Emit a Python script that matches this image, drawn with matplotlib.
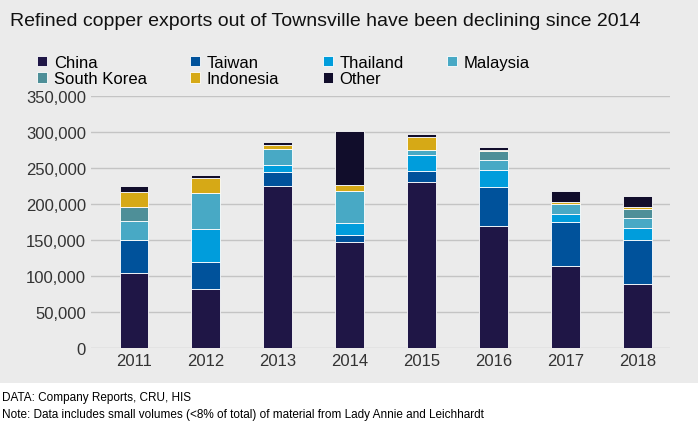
import matplotlib
matplotlib.use("Agg")
import matplotlib.pyplot as plt
from matplotlib.ticker import FuncFormatter

years = ["2011", "2012", "2013", "2014", "2015", "2016", "2017", "2018"]
china = [105000, 82000, 226000, 147000, 231000, 170500, 115000, 90000]
taiwan = [45000, 38500, 19000, 11000, 15000, 53500, 60000, 60500]
thailand = [0, 45000, 9000, 16000, 22000, 23500, 11500, 16000]
malaysia = [27000, 50500, 23000, 44000, 8000, 13500, 14500, 15000]
south_korea = [19000, 0, 0, 0, 0, 12500, 0, 11500]
indonesia = [21000, 21000, 6000, 9000, 18000, 1500, 2000, 3000]
other = [9000, 4000, 3000, 75000, 4000, 5000, 15000, 15000]

series = [
    ("China", china, "#1f1646"),
    ("Taiwan", taiwan, "#00529b"),
    ("Thailand", thailand, "#009ddc"),
    ("Malaysia", malaysia, "#48a9c5"),
    ("South Korea", south_korea, "#4e8f98"),
    ("Indonesia", indonesia, "#d6a916"),
    ("Other", other, "#110d2b"),
]

BG = "#ebebeb"
plt.rcParams["font.family"] = ["Liberation Sans", "DejaVu Sans"]

fig = plt.figure(figsize=(6.98, 4.27), dpi=100, facecolor="white")
bg_ax = fig.add_axes([0, 0.1, 1, 0.9])
bg_ax.set_facecolor(BG)
bg_ax.set_xticks([]); bg_ax.set_yticks([])
for s in bg_ax.spines.values():
    s.set_visible(False)

ax = fig.add_axes([0.13, 0.182, 0.83, 0.59])
ax.set_facecolor(BG)
x = range(len(years))
bottom = [0] * len(years)
handles = []
for name, vals, col in series:
    h = ax.bar(x, vals, 0.4, bottom=bottom, color=col, label=name,
               edgecolor="white", linewidth=0.6)
    handles.append(h)
    bottom = [b + v for b, v in zip(bottom, vals)]

ax.set_ylim(0, 350000)
ax.set_xlim(-0.6, 7.45)
ax.set_yticks(range(0, 350001, 50000))
ax.yaxis.set_major_formatter(FuncFormatter(lambda v, p: f"{int(v):,}"))
ax.set_xticks(list(x))
ax.set_xticklabels(years)
ax.tick_params(length=0, labelsize=12, colors="#333333")
ax.grid(axis="y", color="#c4c4c4", linewidth=1)
ax.set_axisbelow(True)
for s in ax.spines.values():
    s.set_visible(False)

# row-major legend order: matplotlib fills columns, so interleave
names = [s[0] for s in series]
order = [0, 4, 1, 5, 2, 6, 3]
leg_h = [handles[i] for i in order]
leg_l = [names[i] for i in order]
ax.legend(leg_h, leg_l, loc="lower left", bbox_to_anchor=(-0.11, 1.0), ncol=4,
          frameon=False, fontsize=12, handlelength=0.6, handleheight=0.6,
          handletextpad=0.4, columnspacing=2.6, labelspacing=0.1, borderaxespad=0.2)

fig.text(0.015, 0.94, "Refined copper exports out of Townsville have been declining since 2014",
         fontsize=14, color="#111111")
fig.text(0.003, 0.06, "DATA: Company Reports, CRU, HIS", fontsize=8.5)
fig.text(0.003, 0.02, "Note: Data includes small volumes (<8% of total) of material from Lady Annie and Leichhardt",
         fontsize=8.5)

fig.savefig("out.png", dpi=100, facecolor="white")
